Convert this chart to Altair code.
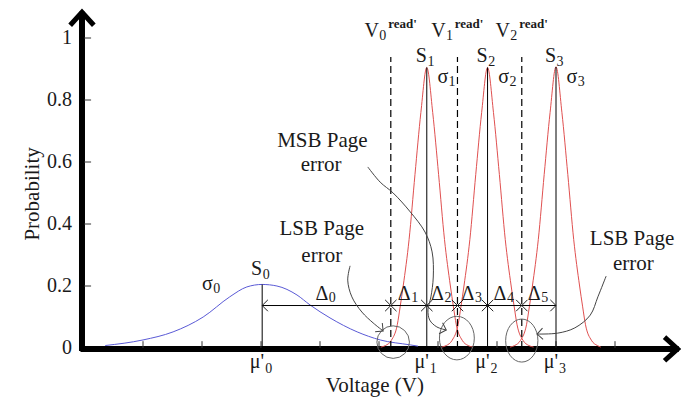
import altair as alt
import pandas as pd

FONT = "Liberation Serif"
INK = "#1a1a1a"

# ---------------- values ----------------
mu = [3.02, 5.81, 6.84, 8.0]                 # mu'0 .. mu'3
state_idx = ["0", "1", "2", "3"]
state_peaks = [0.205, 0.905, 0.905, 0.907]
v_read = [5.2, 6.33, 7.42]                   # V0..V2 read'
v_idx = ["0", "1", "2"]
dashed_top = 0.939
delta_y = 0.137
y_ticks = [0.0, 0.2, 0.4, 0.6, 0.8, 1.0]
y_tick_labels = ["0", "0.2", "0.4", "0.6", "0.8", "1"]
x_ticks = [1, 2, 3, 4, 5, 6, 7, 8, 9]

blue_x = [0.36, 1.0, 1.51, 2.02, 2.47, 2.76, 3.02, 3.27, 3.61, 3.83, 4.17, 4.63, 5.02, 5.53, 5.66]
blue_y = [0.008, 0.026, 0.052, 0.1, 0.165, 0.197, 0.205, 0.2, 0.171, 0.139, 0.097, 0.052, 0.026, 0.01, 0.006]

s1_x = [5.03, 5.11, 5.21, 5.31, 5.36, 5.41, 5.51, 5.61, 5.71, 5.81, 5.91, 6.01, 6.11, 6.21, 6.26, 6.31, 6.41, 6.51, 6.59]
s2_x = [6.06, 6.14, 6.24, 6.34, 6.39, 6.44, 6.54, 6.64, 6.74, 6.84, 6.94, 7.04, 7.14, 7.24, 7.29, 7.34, 7.44, 7.54, 7.62]
s3_x = [7.22, 7.30, 7.40, 7.50, 7.55, 7.60, 7.70, 7.80, 7.90, 8.00, 8.10, 8.20, 8.30, 8.40, 8.45, 8.50, 8.60, 8.70, 8.76]
s1_y = [0.003, 0.008, 0.025, 0.075, 0.135, 0.2, 0.35, 0.56, 0.76, 0.905, 0.76, 0.56, 0.35, 0.2, 0.135, 0.075, 0.025, 0.008, 0.003]
s2_y = [0.003, 0.008, 0.025, 0.075, 0.135, 0.2, 0.35, 0.56, 0.76, 0.905, 0.76, 0.56, 0.35, 0.2, 0.135, 0.075, 0.025, 0.008, 0.003]
s3_y = [0.003, 0.008, 0.025, 0.075, 0.135, 0.2, 0.35, 0.56, 0.76, 0.907, 0.76, 0.56, 0.35, 0.2, 0.135, 0.075, 0.025, 0.008, 0.003]

# annotation callouts (curved arrows), in data units
msb_x = [4.81, 5.02, 5.24, 5.53, 5.78, 5.90, 5.92, 5.88, 5.83, 5.86, 5.98, 6.14]
msb_y = [0.584, 0.535, 0.5, 0.439, 0.374, 0.31, 0.229, 0.165, 0.123, 0.09, 0.068, 0.058]
lsb1_x = [4.51, 4.47, 4.54, 4.71, 4.90, 5.07]
lsb1_y = [0.265, 0.219, 0.165, 0.116, 0.081, 0.055]
lsb2_x = [8.85, 8.71, 8.58, 8.32, 8.03, 7.68]
lsb2_y = [0.232, 0.165, 0.106, 0.065, 0.048, 0.045]

circle_x = [5.24, 6.32, 7.42]
circle_y = [0.019, 0.032, 0.024]

note_text = ["MSB Page", "error", "LSB Page", "error", "LSB Page", "error"]
note_x = [4.04, 4.02, 4.03, 4.03, 9.29, 9.31]
note_y = [0.648, 0.570, 0.365, 0.277, 0.332, 0.252]

# ---------------- scales ----------------
xs = alt.Scale(domain=[0, 10], nice=False, zero=False)
ys = alt.Scale(domain=[0, 1.1], nice=False, zero=False)


def X(f="x"):
    return alt.X(f"{f}:Q", scale=xs, axis=None)


def Y(f="y"):
    return alt.Y(f"{f}:Q", scale=ys, axis=None)


layers = []

# axis lines
axes_df = pd.DataFrame({"x": [-0.06, -0.034], "x2": [10.08, -0.034],
                        "y": [-0.003, -0.01], "y2": [-0.003, 1.085]})
layers.append(alt.Chart(axes_df).mark_rule(color="black", strokeWidth=6).encode(
    x=X(), x2="x2:Q", y=Y(), y2="y2:Q"))

arrow_df = pd.DataFrame({
    "x": [-0.034, 10.06], "y": [1.083, -0.003],
    "shape": ["M -1 1.1 L 0 0 L 1 1.1", "M -1.1 -1 L 0 0 L -1.1 1"]})
layers.append(alt.Chart(arrow_df).mark_point(
    filled=False, color="black", strokeWidth=5, size=560, opacity=1, strokeJoin="miter"
).encode(x=X(), y=Y(), shape=alt.Shape("shape:N", scale=None)))

# small ticks
yt_df = pd.DataFrame({"x": [0.0] * 5, "x2": [0.12] * 5, "y": y_ticks[1:]})
layers.append(alt.Chart(yt_df).mark_rule(color="#333", strokeWidth=1).encode(
    x=X(), x2="x2:Q", y=Y()))
xt_df = pd.DataFrame({"x": x_ticks, "y": [0.0] * len(x_ticks), "y2": [0.022] * len(x_ticks)})
layers.append(alt.Chart(xt_df).mark_rule(color="#333", strokeWidth=1).encode(
    x=X(), y=Y(), y2="y2:Q"))

# curves
blue_df = pd.DataFrame({"x": blue_x, "y": blue_y})
layers.append(alt.Chart(blue_df).mark_line(color="#5a5ad6", strokeWidth=1, interpolate="monotone").encode(
    x=X(), y=Y()))
red_df = pd.concat([
    pd.DataFrame({"x": s1_x, "y": s1_y, "s": "S1"}),
    pd.DataFrame({"x": s2_x, "y": s2_y, "s": "S2"}),
    pd.DataFrame({"x": s3_x, "y": s3_y, "s": "S3"}),
])
layers.append(alt.Chart(red_df).mark_line(color="#e05050", strokeWidth=1, interpolate="monotone").encode(
    x=X(), y=Y(), detail="s:N"))

# vertical solid lines at the means
mean_df = pd.DataFrame({"x": mu, "y": [0.0] * 4, "y2": state_peaks})
layers.append(alt.Chart(mean_df).mark_rule(color="black", strokeWidth=1).encode(
    x=X(), y=Y(), y2="y2:Q"))

# dashed read-voltage lines
v_df = pd.DataFrame({"x": v_read, "y": [0.0] * 3, "y2": [dashed_top] * 3})
layers.append(alt.Chart(v_df).mark_rule(color="black", strokeWidth=1.2, strokeDash=[7, 4]).encode(
    x=X(), y=Y(), y2="y2:Q"))

# delta line with markers
dl_df = pd.DataFrame({"x": [mu[0]], "x2": [mu[3]], "y": [delta_y]})
layers.append(alt.Chart(dl_df).mark_rule(color="black", strokeWidth=1).encode(
    x=X(), x2="x2:Q", y=Y()))
mark_pts = [v_read[0], mu[1], v_read[1], mu[2], v_read[2]]
dm_df = pd.DataFrame({
    "x": [mu[0]] + mark_pts + [mu[3]],
    "y": [delta_y] * 7,
    "shape": ["M 1 -1 L 0 0 L 1 1"] + ["M -1 -1 L 1 1 M -1 1 L 1 -1"] * 5 + ["M -1 -1 L 0 0 L -1 1"]})
layers.append(alt.Chart(dm_df).mark_point(filled=False, color="#222", strokeWidth=1, size=130, opacity=1).encode(
    x=X(), y=Y(), shape=alt.Shape("shape:N", scale=None)))

# error circles
circ_df = pd.DataFrame({
    "x": circle_x, "y": circle_y,
    "shape": ["circle",
              "M 0.8 0 A 0.8 1 0 1 1 -0.8 0 A 0.8 1 0 1 1 0.8 0 Z",
              "M 0.75 0 A 0.75 1 0 1 1 -0.75 0 A 0.75 1 0 1 1 0.75 0 Z"],
    "size": [1060, 1900, 1850]})
layers.append(alt.Chart(circ_df).mark_point(filled=False, color="#666", strokeWidth=1, opacity=1).encode(
    x=X(), y=Y(), shape=alt.Shape("shape:N", scale=None), size=alt.Size("size:Q", scale=None)))

# callout curves
call_df = pd.concat([
    pd.DataFrame({"x": msb_x, "y": msb_y, "c": "msb", "i": range(len(msb_x))}),
    pd.DataFrame({"x": lsb1_x, "y": lsb1_y, "c": "lsb1", "i": range(len(lsb1_x))}),
    pd.DataFrame({"x": lsb2_x, "y": lsb2_y, "c": "lsb2", "i": range(len(lsb2_x))}),
])
layers.append(alt.Chart(call_df).mark_line(color="#444", strokeWidth=1, interpolate="catmull-rom").encode(
    x=X(), y=Y(), detail="c:N", order="i:Q"))
head_df = pd.DataFrame({"x": [msb_x[-1], lsb1_x[-1], lsb2_x[-1]],
                        "y": [msb_y[-1], lsb1_y[-1], lsb2_y[-1]],
                        "angle": [18, 39, 177]})
layers.append(alt.Chart(head_df).mark_point(
    filled=False, color="#444", strokeWidth=1, size=130, opacity=1, shape="M -1 -1 L 0 0 L -1 1"
).encode(x=X(), y=Y(), angle=alt.Angle("angle:Q", scale=None)))


# ---------------- text ----------------
def text_layer(df, size, align, weight="normal", baseline="alphabetic", angle=0):
    return alt.Chart(df).mark_text(
        font=FONT, fontSize=size, align=align, baseline=baseline, fontWeight=weight,
        angle=angle, color=INK
    ).encode(x=X(), y=Y(), text="t:N")


deltas_mid = [(a + b) / 2 for a, b in zip([mu[0]] + mark_pts, mark_pts + [mu[3]])]
sigma_x = [2.0, mu[1] + 0.18, mu[2] + 0.18, mu[3] + 0.18]
sigma_y = [0.187, 0.855, 0.855, 0.855]
s_y = [0.235, 0.923, 0.923, 0.923]

main_right = pd.DataFrame({
    "t": ["S"] * 4 + ["V"] * 3 + ["Δ"] * 6 + ["μ'"] * 4,
    "x": mu + [v - 0.2 for v in v_read] + [m + 0.03 for m in deltas_mid] + [m + 0.034 for m in mu],
    "y": s_y + [1.003] * 3 + [0.155] * 6 + [-0.065] * 4,
})
sub_left = pd.DataFrame({
    "t": state_idx + v_idx + [str(i) for i in range(6)] + state_idx + state_idx,
    "x": [m + 0.01 for m in mu] + [v - 0.195 for v in v_read] + [m + 0.04 for m in deltas_mid]
         + [m + 0.05 for m in mu] + [s + 0.19 for s in sigma_x],
    "y": [s - 0.013 for s in s_y] + [0.993] * 3 + [0.147] * 6 + [-0.08] * 4 + [s - 0.01 for s in sigma_y],
})
sigma_df = pd.DataFrame({"t": ["σ"] * 4, "x": sigma_x, "y": sigma_y})
sup_df = pd.DataFrame({"t": ["read'"] * 3, "x": [v - 0.045 for v in v_read], "y": [1.032] * 3})
notes_df = pd.DataFrame({"t": note_text, "x": note_x, "y": note_y})
ytl_df = pd.DataFrame({"t": y_tick_labels, "x": [-0.203] * 6, "y": y_ticks})
xtitle_df = pd.DataFrame({"t": ["Voltage (V)"], "x": [4.93], "y": [-0.142]})
ytitle_df = pd.DataFrame({"t": ["Probability"], "x": [-0.864], "y": [0.497]})

layers += [
    text_layer(main_right, 20, "right"),
    text_layer(sub_left, 14, "left"),
    text_layer(sigma_df, 20, "left"),
    text_layer(sup_df, 13, "left", weight="bold"),
    text_layer(notes_df, 21, "center"),
    text_layer(ytl_df, 20, "right", baseline="middle"),
    text_layer(xtitle_df, 21, "center"),
    text_layer(ytitle_df, 21, "center", baseline="middle", angle=270),
]

chart = alt.layer(*layers).properties(
    width=590, height=341,
    autosize=alt.AutoSizeParams(type="none"),
    padding={"left": 84, "top": 7, "right": 7, "bottom": 50},
    background="white",
).configure_view(stroke=None)

chart.save("out.html", embed_options={"renderer": "svg", "actions": False})
